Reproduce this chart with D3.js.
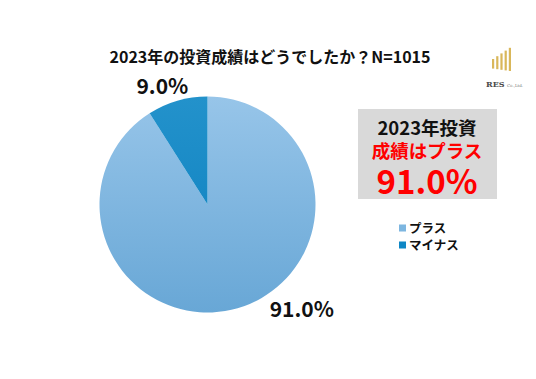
<!DOCTYPE html>
<html>
<head>
<meta charset="utf-8">
<script src="https://cdn.jsdelivr.net/npm/d3@7"></script>
<style>
  body { margin: 0; background: #fff; }
  text { font-family: "Noto Sans CJK JP", "Noto Sans", sans-serif; }
  text.serif { font-family: "DejaVu Serif", "Liberation Serif", serif; }
</style>
</head>
<body>
<svg id="chart" width="536" height="379"></svg>
<script>
var categories = ['プラス', 'マイナス'];
var values = [91.0, 9.0];
var labels = ['91.0%', '9.0%'];
var titleText = '2023年の投資成績はどうでしたか？N=1015';
var calloutLines = ['2023年投資', '成績はプラス', '91.0%'];

var svg = d3.select('#chart');
var W = 536, H = 379;

svg.append('rect').attr('width', W).attr('height', H).attr('fill', '#fff');

// pie geometry
var cx = 207.5, cy = 204.5, r = 108;

var defs = svg.append('defs');
var grads = [
    {id: 'gLight', top: '#97c5e9', bottom: '#68a7d6'},
    {id: 'gDark', top: '#2392cb', bottom: '#0a7ebf'}
];
grads.forEach(function (g) {
    var lg = defs.append('linearGradient')
        .attr('id', g.id)
        .attr('gradientUnits', 'userSpaceOnUse')
        .attr('x1', 0).attr('y1', -r).attr('x2', 0).attr('y2', r);
    lg.append('stop').attr('offset', '0%').attr('stop-color', g.top);
    lg.append('stop').attr('offset', '100%').attr('stop-color', g.bottom);
});
var legendColors = ['#7db6e0', '#0f87c5'];

// title
svg.append('text')
    .attr('x', 270).attr('y', 63)
    .attr('text-anchor', 'middle')
    .attr('font-size', 16).attr('font-weight', 700)
    .attr('fill', '#111')
    .text(titleText);

// pie
var pie = d3.pie().sort(null).value(function (d) { return d; });
var arcs = pie(values);
var arc = d3.arc().innerRadius(0).outerRadius(r);

var g = svg.append('g').attr('transform', 'translate(' + cx + ',' + cy + ')');
g.selectAll('path')
    .data(arcs)
    .enter()
    .append('path')
    .attr('d', arc)
    .attr('fill', function (d, i) { return i === 0 ? 'url(#gLight)' : 'url(#gDark)'; });

// data labels, outside the pie like the original
var labelPos = [
    {angle: 138, dist: 141},
    {angle: 339, dist: 126}
];
g.selectAll('.lbl')
    .data(arcs)
    .enter()
    .append('text')
    .attr('class', 'lbl')
    .attr('x', function (d, i) { return labelPos[i].dist * Math.sin(labelPos[i].angle * Math.PI / 180); })
    .attr('y', function (d, i) { return -labelPos[i].dist * Math.cos(labelPos[i].angle * Math.PI / 180); })
    .attr('dy', '0.36em')
    .attr('text-anchor', 'middle')
    .attr('font-size', 21).attr('font-weight', 700)
    .attr('fill', '#111')
    .text(function (d, i) { return labels[i]; });

// callout box
svg.append('rect')
    .attr('x', 358).attr('y', 109)
    .attr('width', 139).attr('height', 90)
    .attr('fill', '#d9d9d9');
var calloutStyle = [
    {y: 128, size: 18.5, fill: '#111'},
    {y: 151, size: 18.5, fill: '#ff0000'},
    {y: 182, size: 33, fill: '#ff0000'}
];
svg.selectAll('.callout')
    .data(calloutLines)
    .enter()
    .append('text')
    .attr('class', 'callout')
    .attr('x', 427)
    .attr('y', function (d, i) { return calloutStyle[i].y; })
    .attr('dy', '0.36em')
    .attr('text-anchor', 'middle')
    .attr('font-weight', 700)
    .attr('font-size', function (d, i) { return calloutStyle[i].size; })
    .attr('fill', function (d, i) { return calloutStyle[i].fill; })
    .text(function (d) { return d; });

// legend
var legend = svg.selectAll('.legend')
    .data(categories)
    .enter()
    .append('g')
    .attr('class', 'legend')
    .attr('transform', function (d, i) { return 'translate(399,' + (228 + i * 17) + ')'; });
legend.append('rect')
    .attr('x', 0).attr('y', -3.5)
    .attr('width', 7).attr('height', 7)
    .attr('fill', function (d, i) { return legendColors[i]; });
legend.append('text')
    .attr('x', 10).attr('dy', '0.36em')
    .attr('font-size', 12.5).attr('font-weight', 700)
    .attr('fill', '#111')
    .text(function (d) { return d; });

// logo
var logo = svg.append('g').attr('transform', 'translate(492,71)');
[0, 1, 2, 3, 4].forEach(function (i) {
    logo.append('rect')
        .attr('x', i * 4.2).attr('y', -12 - i * 2.8)
        .attr('width', 2.2).attr('height', 12 + i * 2.8 - (4 - i) * 0.6)
        .attr('fill', '#d9b75a');
});
logo.append('text')
    .attr('class', 'serif')
    .attr('x', -6).attr('y', 16)
    .attr('font-size', 8).attr('font-weight', 700)
    .attr('fill', '#4a4a4a')
    .text('RES');
logo.append('text')
    .attr('class', 'serif')
    .attr('x', 15).attr('y', 16)
    .attr('font-size', 4)
    .attr('fill', '#777')
    .text('Co.,Ltd.');
</script>
</body>
</html>
